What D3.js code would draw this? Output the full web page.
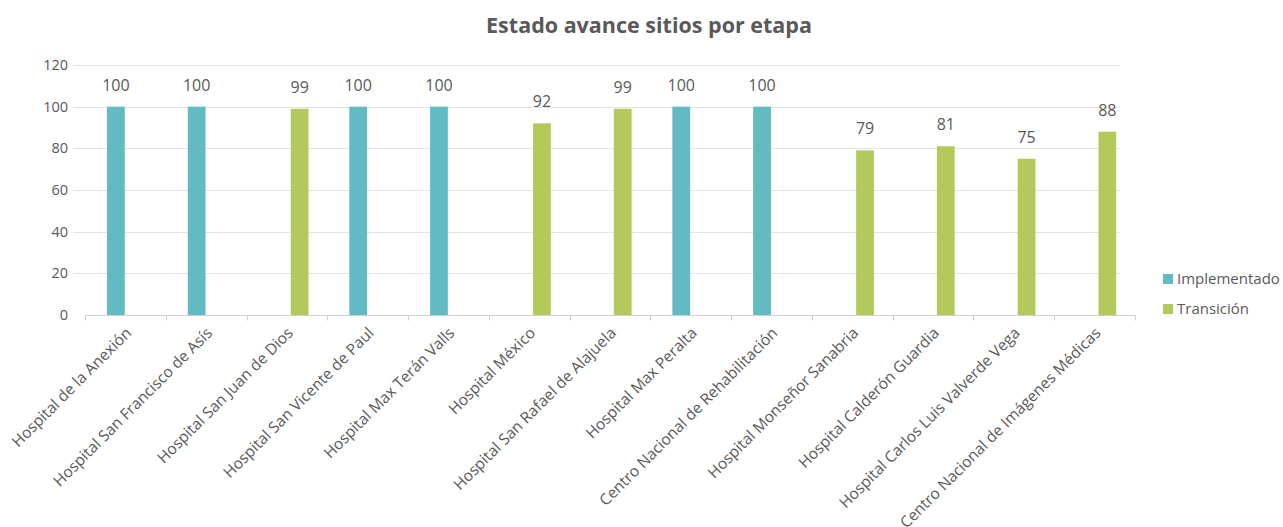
<!DOCTYPE html>
<html>
<head>
<meta charset="utf-8">
<script src="https://cdn.jsdelivr.net/npm/d3@7"></script>
<style>
  body { margin: 0; background: #fff; }
  text { font-family: "Open Sans", sans-serif; fill: #595959; }
</style>
</head>
<body>
<script>
var hospitals = [
  "Hospital de la Anexión",
  "Hospital San Francisco de Asís",
  "Hospital San Juan de Dios",
  "Hospital San Vicente de Paul",
  "Hospital Max Terán Valls",
  "Hospital México",
  "Hospital San Rafael de Alajuela",
  "Hospital Max Peralta",
  "Centro Nacional de Rehabilitación",
  "Hospital Monseñor Sanabria",
  "Hospital Calderón Guardia",
  "Hospital Carlos Luis Valverde Vega",
  "Centro Nacional de Imágenes Médicas"
];
var seriesNames = ["Implementado", "Transición"];
var implementado = [100, 100, null, 100, 100, null, null, 100, 100, null, null, null, null];
var transicion = [null, null, 99, null, null, 92, 99, null, null, 79, 81, 75, 88];
var yTicks = [0, 20, 40, 60, 80, 100, 120];
var colors = ["#62bac3", "#b3c95c"];

main();

function main() {
  setupCanvas();
  setupScales();
  appendGrid();
  appendXAxis();
  appendYAxis();
  appendBars();
  addTitle();
  addLegend();
}

function setupCanvas() {
  width = 1283;
  height = 527;
  plot = { left: 85, right: 1135, top: 65, bottom: 315 };
  svg = d3.select("body").append("svg")
    .attr("width", width)
    .attr("height", height);
}

function setupScales() {
  x = d3.scaleBand()
    .domain(hospitals)
    .range([plot.left, plot.right]);
  // position of the two series inside each category
  x1 = d3.scaleBand()
    .domain(seriesNames)
    .range([22, 62])
    .paddingInner(0.2);
  y = d3.scaleLinear()
    .domain([0, 120])
    .range([plot.bottom, plot.top]);
}

function appendGrid() {
  svg.append("g")
    .selectAll("line")
    .data(yTicks.slice(1))
    .enter()
    .append("line")
    .attr("x1", 73)
    .attr("x2", 1120)
    .attr("y1", function (d) { return Math.round(y(d)) + 0.5; })
    .attr("y2", function (d) { return Math.round(y(d)) + 0.5; })
    .attr("stroke", "#e4e4e4")
    .attr("stroke-width", 1);
}

function appendXAxis() {
  var g = svg.append("g")
    .attr("transform", `translate(0, ${plot.bottom + 0.5})`);
  g.append("line")
    .attr("x1", plot.left)
    .attr("x2", plot.right)
    .attr("stroke", "#d0d0d0");
  // tick marks at category boundaries
  g.selectAll(".sep")
    .data(hospitals.concat([null]))
    .enter()
    .append("line")
    .attr("x1", function (d, i) { return Math.round(plot.left + i * x.step()) + 0.5; })
    .attr("x2", function (d, i) { return Math.round(plot.left + i * x.step()) + 0.5; })
    .attr("y1", 0)
    .attr("y2", 5)
    .attr("stroke", "#d0d0d0");

  svg.append("g")
    .selectAll("text")
    .data(hospitals)
    .enter()
    .append("text")
    .attr("transform", function (d) {
      return `translate(${x(d) + x.bandwidth() / 2 + 7}, 334) rotate(-45)`;
    })
    .attr("text-anchor", "end")
    .style("font-size", "15.5px")
    .text(function (d) { return d; });
}

function appendYAxis() {
  svg.append("g")
    .selectAll("text")
    .data(yTicks)
    .enter()
    .append("text")
    .attr("x", 68)
    .attr("y", function (d) { return y(d) + 5; })
    .attr("text-anchor", "end")
    .style("font-size", "14.5px")
    .text(function (d) { return d; });
}

function appendBars() {
  var rows = [];
  hospitals.forEach(function (h, i) {
    if (implementado[i] != null) rows.push({ name: h, s: 0, value: implementado[i] });
    if (transicion[i] != null) rows.push({ name: h, s: 1, value: transicion[i] });
  });

  svg.append("g")
    .selectAll("rect")
    .data(rows)
    .enter()
    .append("rect")
    .attr("x", function (d) { return x(d.name) + x1(seriesNames[d.s]); })
    .attr("y", function (d) { return y(d.value); })
    .attr("width", x1.bandwidth())
    .attr("height", function (d) { return y(0) - y(d.value); })
    .attr("fill", function (d) { return colors[d.s]; });

  svg.append("g")
    .selectAll("text")
    .data(rows)
    .enter()
    .append("text")
    .attr("x", function (d) { return x(d.name) + x1(seriesNames[d.s]) + x1.bandwidth() / 2; })
    .attr("y", function (d) { return y(d.value) - 16; })
    .attr("text-anchor", "middle")
    .style("font-size", "16px")
    .text(function (d) { return d.value; });
}

function addTitle() {
  svg.append("text")
    .attr("x", 649)
    .attr("y", 33)
    .attr("text-anchor", "middle")
    .style("font-size", "21.5px")
    .style("font-weight", "bold")
    .text("Estado avance sitios por etapa");
}

function addLegend() {
  var legend = svg.append("g")
    .selectAll("g")
    .data(seriesNames)
    .enter()
    .append("g")
    .attr("transform", function (d, i) { return `translate(1163, ${274 + i * 30})`; });
  legend.append("rect")
    .attr("width", 10)
    .attr("height", 10)
    .attr("fill", function (d, i) { return colors[i]; });
  legend.append("text")
    .attr("x", 14)
    .attr("y", 10)
    .style("font-size", "15px")
    .text(function (d) { return d; });
}
</script>
</body>
</html>
